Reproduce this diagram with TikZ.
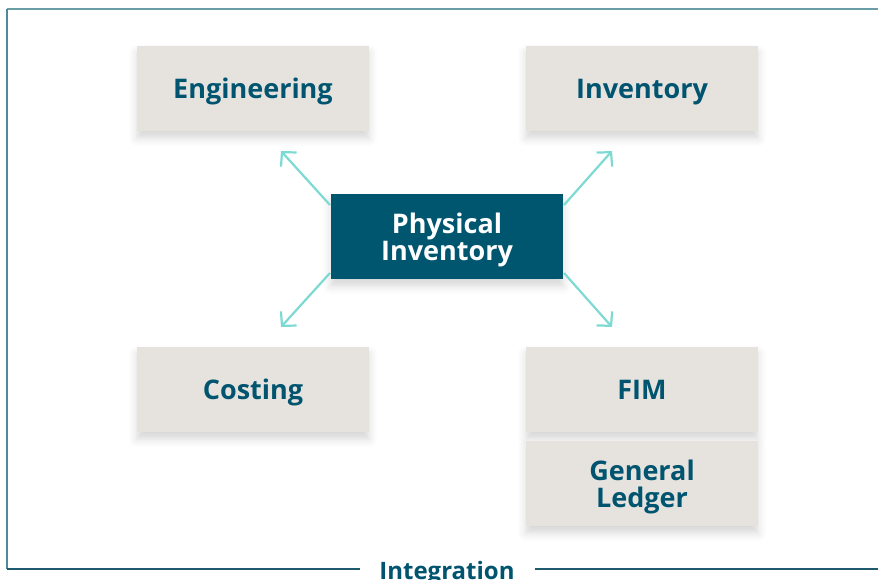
\documentclass[tikz,border=0pt]{standalone}
\usepackage{fontspec}
\setmainfont{Open Sans}
\usetikzlibrary{arrows.meta,shadows.blur}
\definecolor{boxfill}{HTML}{E6E3DE}
\definecolor{boxtext}{HTML}{00546F}
\definecolor{pifill}{HTML}{00556F}
\definecolor{arrowc}{HTML}{7CDAD2}
\definecolor{frametop}{HTML}{6A9DA6}
\definecolor{frameleft}{HTML}{4F8A9A}
\definecolor{framebot}{HTML}{1F5A6E}
\begin{document}
\begin{tikzpicture}[x=1pt,y=-1pt,
  modbox/.style={fill=boxfill, minimum width=232pt, minimum height=85pt, inner sep=0pt,
    text=boxtext, font=\fontsize{27}{27}\selectfont\bfseries, align=center,
    blur shadow={shadow xshift=0pt, shadow yshift=-7pt, shadow blur radius=8pt, shadow opacity=16}},
  oneline/.style={text height=20pt, text depth=0pt},
  twoline/.style={text depth=0pt},
  pibox/.style={modbox, fill=pifill, text=white},
  conn/.style={draw=arrowc, line width=2.2pt, -{Straight Barb[length=10pt,width=21pt,line width=2.2pt]}}]
\useasboundingbox (0,0) rectangle (878,580);
% frame
\draw[frametop, line width=1.6pt] (7,9) -- (880,9);
\draw[frameleft, line width=1.6pt] (7,9) -- (7,569);
\draw[framebot, line width=1.6pt] (7,569) -- (360,569);
\draw[framebot, line width=1.6pt] (535,569) -- (880,569);
\node[text=boxtext, font=\fontsize{24}{24}\selectfont\bfseries, anchor=base, inner sep=0pt] (integ) at (447,579) {Integration};
% boxes
\node[modbox, oneline] (eng) at (253,88.5) {Engineering};
\node[modbox, oneline] (inv) at (642,88.5) {Inventory};
\node[pibox, twoline] (pi) at (447,236.5) {Physical\\Inventory};
\node[modbox, oneline] (cost) at (253,389.5) {Costing};
\node[modbox, oneline] (fim) at (642,389.5) {FIM};
\node[modbox, twoline] (gl) at (642,483.5) {General\\Ledger};
% arrow ends
\coordinate (s1) at (330,205); \coordinate (e1) at (281,151);
\coordinate (s2) at (564,205); \coordinate (e2) at (612,151);
\coordinate (s3) at (330,273); \coordinate (e3) at (281,327);
\coordinate (s4) at (564,273); \coordinate (e4) at (612,327);
\draw[conn] (s1) -- (e1);
\draw[conn] (s2) -- (e2);
\draw[conn] (s3) -- (e3);
\draw[conn] (s4) -- (e4);
\end{tikzpicture}
\end{document}
